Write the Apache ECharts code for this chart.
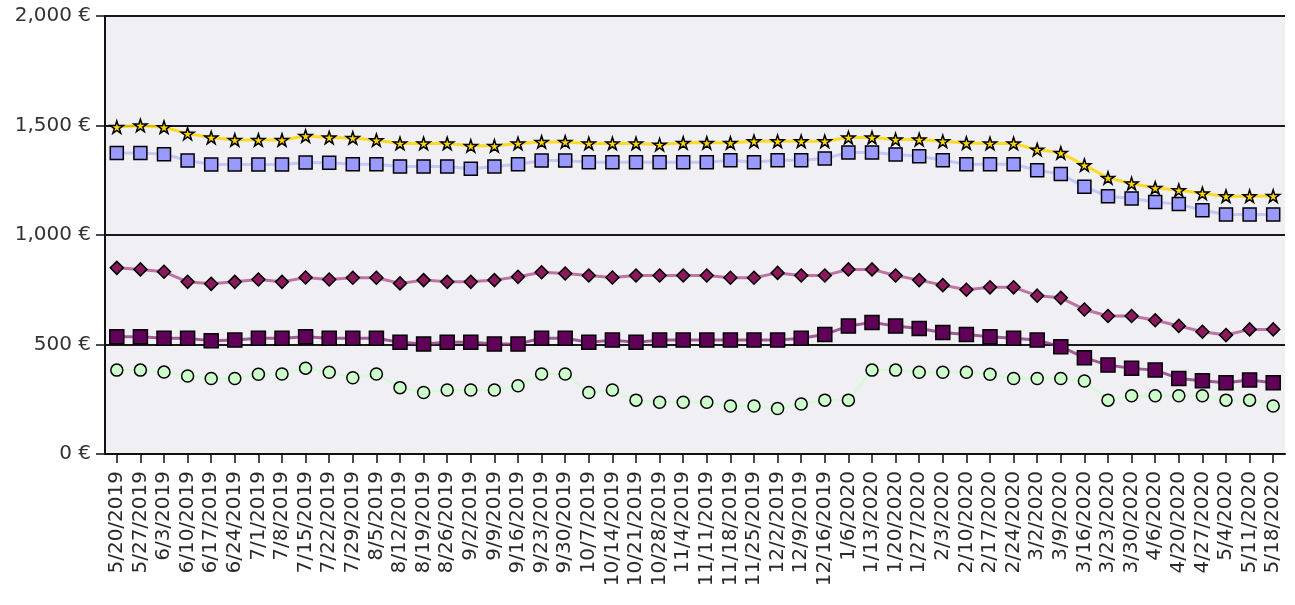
<!DOCTYPE html>
<html>
<head>
<meta charset="utf-8">
<script src="https://cdn.jsdelivr.net/npm/echarts@6/dist/echarts.min.js"></script>
<style>
html,body{margin:0;padding:0;background:#fff;}
#chart{width:1295px;height:605px;}
</style>
</head>
<body>
<div id="chart"></div>
<script>
const categories = ["5/20/2019","5/27/2019","6/3/2019","6/10/2019","6/17/2019","6/24/2019","7/1/2019","7/8/2019","7/15/2019","7/22/2019","7/29/2019","8/5/2019","8/12/2019","8/19/2019","8/26/2019","9/2/2019","9/9/2019","9/16/2019","9/23/2019","9/30/2019","10/7/2019","10/14/2019","10/21/2019","10/28/2019","11/4/2019","11/11/2019","11/18/2019","11/25/2019","12/2/2019","12/9/2019","12/16/2019","1/6/2020","1/13/2020","1/20/2020","1/27/2020","2/3/2020","2/10/2020","2/17/2020","2/24/2020","3/2/2020","3/9/2020","3/16/2020","3/23/2020","3/30/2020","4/6/2020","4/20/2020","4/27/2020","5/4/2020","5/11/2020","5/18/2020"];

const starValues = [1493,1500,1492,1463,1445,1434,1434,1434,1452,1445,
  1443,1433,1418,1418,1418,1407,1407,1418,1425,1425,
  1418,1418,1418,1413,1421,1421,1421,1428,1428,1428,
  1428,1445,1445,1436,1436,1428,1420,1418,1418,1390,
  1375,1319,1261,1235,1215,1205,1190,1177,1177,1178];

const blueSquareValues = [1375,1375,1369,1340,1322,1322,1322,1322,1331,1330,
  1323,1323,1313,1313,1313,1303,1313,1323,1340,1340,
  1332,1332,1332,1332,1332,1332,1341,1332,1341,1341,
  1349,1377,1377,1368,1360,1341,1323,1323,1323,1296,
  1278,1220,1177,1167,1151,1141,1113,1094,1094,1094];

const diamondValues = [850,843,832,786,777,786,797,786,806,797,
  805,805,779,794,786,786,794,809,830,824,
  815,806,815,815,815,815,805,805,827,815,
  815,843,843,815,794,771,750,761,761,723,
  713,660,630,630,611,585,558,543,569,569];

const darkSquareValues = [535,535,528,528,517,520,528,528,535,529,
  529,529,510,502,510,510,502,502,529,529,
  510,520,510,520,520,520,520,520,520,529,
  546,584,601,584,573,555,546,535,528,520,
  490,440,406,391,383,345,335,325,338,325];

const circleValues = [383,383,374,356,345,345,364,365,392,373,
  348,365,303,281,292,292,292,312,365,365,
  281,292,246,236,236,236,219,219,208,228,
  246,246,383,383,373,373,373,364,345,345,
  345,333,246,266,266,266,266,246,246,219];

const yTicks = [0, 500, 1000, 1500, 2000];

const starPath = 'path://M50,0 L61,35 L98,35 L68,57 L79,91 L50,70 L21,91 L32,57 L2,35 L39,35 Z';

function fmt(v){
  return String(v).replace(/\B(?=(\d{3})+(?!\d))/g, ',') + ' \u20AC';
}

const chart = echarts.init(document.getElementById('chart'), null, {renderer:'canvas'});

function mk(data, symbol, size, fill, lineColor, lineWidth, lineOpacity){
  return {
    type:'line',
    data:data,
    symbol:symbol,
    symbolSize:size,
    symbolKeepAspect:true,
    showAllSymbol:true,
    itemStyle:{color:fill, borderColor:'#000', borderWidth:1.5},
    lineStyle:{color:lineColor, width:lineWidth, opacity:lineOpacity},
    emphasis:{disabled:true}
  };
}

chart.setOption({
  animation:false,
  grid:{left:105, right:10, top:16, bottom:151, show:true, backgroundColor:'#EFEFF4', borderWidth:0, containLabel:false},
  xAxis:{
    type:'category',
    data:categories,
    boundaryGap:true,
    axisLine:{lineStyle:{color:'#111', width:2}},
    axisTick:{show:true, alignWithLabel:true, length:9, lineStyle:{color:'#111', width:1.5}},
    axisLabel:{interval:0, rotate:90, margin:17, fontFamily:'DejaVu Sans', fontSize:20, color:'#2a2a2a'},
    splitLine:{show:false}
  },
  yAxis:{
    type:'value',
    min:yTicks[0], max:yTicks[yTicks.length-1], interval:500,
    axisLine:{show:true, lineStyle:{color:'#111', width:2}},
    axisTick:{show:true, length:9, lineStyle:{color:'#111', width:1.5}},
    axisLabel:{margin:14, fontFamily:'DejaVu Sans', fontSize:20, color:'#333', formatter:fmt},
    splitLine:{show:true, lineStyle:{color:'#1a1a1a', width:2}}
  },
  series:[
    mk(circleValues, 'circle', 12, '#CCFFCC', '#CCFFCC', 2, 0.9),
    mk(darkSquareValues, 'rect', 14, '#600058', '#8A2A7A', 3, 0.75),
    mk(diamondValues, 'diamond', 13, '#8A1A5C', '#B04A88', 3, 0.75),
    mk(blueSquareValues, 'rect', 13, '#9999FF', '#AAAAFF', 3, 0.6),
    mk(starValues, starPath, 13, '#FFD700', '#FFD700', 3, 0.85)
  ]
});
</script>
</body>
</html>
